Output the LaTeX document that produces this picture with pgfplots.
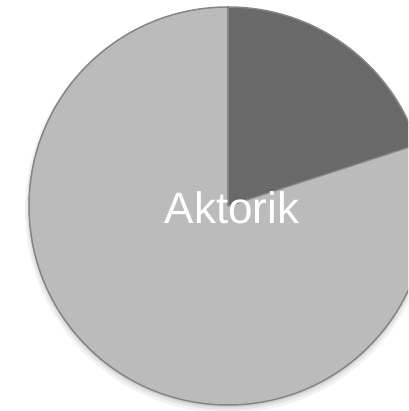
\documentclass[border=0pt]{standalone}
\usepackage{pgfplots}
\usepackage{pgfplotstable}
\pgfplotsset{compat=1.18}
\usepackage{fontspec}
\setmainfont{Liberation Sans}
\definecolor{darkslice}{HTML}{696969}
\definecolor{lightslice}{HTML}{BBBBBB}
\definecolor{edgecol}{HTML}{858585}
\pgfplotstableread{
label value
Dark 20
Light 80
}\piedata
\begin{document}
\begin{tikzpicture}
\pgfplotstablegetelem{0}{value}\of\piedata
\pgfmathsetmacro{\va}{\pgfplotsretval}
\pgfplotstablegetelem{1}{value}\of\piedata
\pgfmathsetmacro{\vb}{\pgfplotsretval}
\pgfmathsetmacro{\tot}{\va+\vb}
\pgfmathsetmacro{\aend}{90-\va/\tot*360}
\pgfmathsetmacro{\bend}{\aend-\vb/\tot*360}
\begin{axis}[x=1pt,y=1pt,xmin=0,xmax=408,ymin=0,ymax=411,hide axis,clip=true]
% soft shadow
\fill[black,opacity=0.05] (axis cs:228,201) circle[radius=203pt];
\fill[black,opacity=0.06] (axis cs:228,202) circle[radius=201pt];
\fill[black,opacity=0.08] (axis cs:228,203) circle[radius=199.5pt];
% slices
\fill[lightslice] (axis cs:228,205) -- ++(\aend:199pt) arc[start angle=\aend, end angle=\bend, radius=199pt] -- cycle;
\fill[darkslice] (axis cs:228,205) -- ++(90:199pt) arc[start angle=90, end angle=\aend, radius=199pt] -- cycle;
\draw[edgecol,line width=1.3pt] (axis cs:228,205) -- ++(90:199pt);
\draw[edgecol,line width=1.3pt] (axis cs:228,205) -- ++(\aend:199pt);
\draw[edgecol,line width=1.5pt] (axis cs:228,205) circle[radius=199pt];
% label
\node[anchor=base,text=white,font=\fontsize{44}{50}\selectfont,inner sep=0pt] at (axis cs:232,187.5) {Aktorik};
\end{axis}
\pgfresetboundingbox
\path (current axis.south west) rectangle (current axis.north east);
\end{tikzpicture}
\end{document}
